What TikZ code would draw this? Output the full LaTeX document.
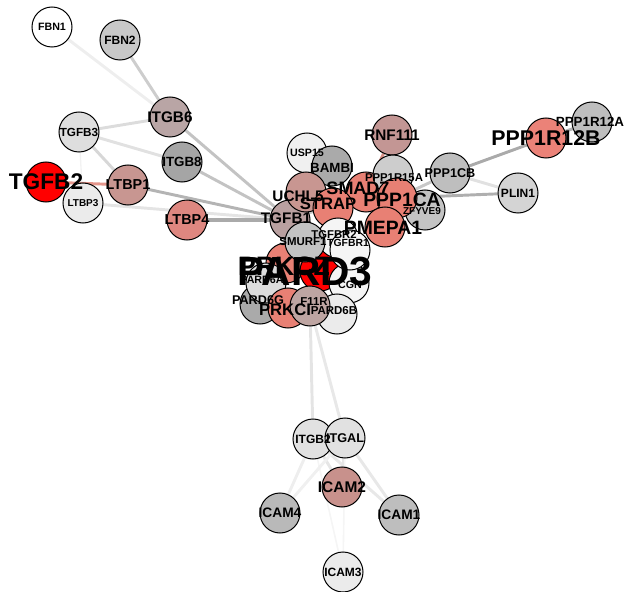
\documentclass[tikz,border=0pt]{standalone}
\usepackage{fontspec}
\setmainfont{Liberation Sans}
\pgfdeclarelayer{edges}
\pgfdeclarelayer{labels}
\pgfsetlayers{edges,main,labels}
\newcommand{\fsz}[1]{\fontsize{#1}{#1}\selectfont\bfseries}
\tikzset{every picture/.style={line width=0.75pt}}
\tikzset{gene/.style={circle, draw, line width=0.75pt, minimum size=30pt, inner sep=0pt},
  lnk/.style={line width=2.2pt},
  txt/.style={inner sep=0.75pt, text=black}}

\begin{document}
\begin{tikzpicture}[x=0.75pt,y=0.75pt,yscale=-1,xscale=1]
\useasboundingbox (0,0) rectangle (626,592);

%Circles, left group
\node [gene, fill={rgb, 255:red, 255; green, 255; blue, 255 }] (FBN1) at (52,27) {};
\node [gene, fill={rgb, 255:red, 200; green, 200; blue, 200 }] (FBN2) at (120,40) {};
\node [gene, fill={rgb, 255:red, 185; green, 165; blue, 165 }] (ITGB6) at (170,117) {};
\node [gene, fill={rgb, 255:red, 222; green, 222; blue, 222 }] (TGFB3) at (79,132) {};
\node [gene, fill={rgb, 255:red, 165; green, 165; blue, 165 }] (ITGB8) at (182,162) {};
\node [gene, fill={rgb, 255:red, 255; green, 0; blue, 0 }] (TGFB2) at (46,182) {};
\node [gene, fill={rgb, 255:red, 200; green, 150; blue, 145 }] (LTBP1) at (128,185) {};
\node [gene, fill={rgb, 255:red, 235; green, 235; blue, 235 }] (LTBP3) at (83,203) {};
\node [gene, fill={rgb, 255:red, 222; green, 135; blue, 128 }] (LTBP4) at (187,220) {};

%Circles, TGF-beta group
\node [gene, fill={rgb, 255:red, 240; green, 240; blue, 240 }] (USP15) at (307,153) {};
\node [gene, fill={rgb, 255:red, 170; green, 170; blue, 170 }] (BAMBI) at (332,166) {};
\node [gene, fill={rgb, 255:red, 195; green, 150; blue, 148 }] (RNF111) at (392,135) {};
\node [gene, fill={rgb, 255:red, 185; green, 160; blue, 160 }] (TGFB1) at (290,220) {};
\node [gene, fill={rgb, 255:red, 200; green, 150; blue, 145 }] (UCHL5) at (306,192) {};
\node [gene, fill={rgb, 255:red, 232; green, 128; blue, 116 }] (SMAD7) at (366,192) {};
\node [gene, fill={rgb, 255:red, 205; green, 205; blue, 205 }] (PPP1R15A) at (393,175) {};
\node [gene, fill={rgb, 255:red, 195; green, 195; blue, 195 }] (ZFYVE9) at (425,210) {};
\node [gene, fill={rgb, 255:red, 232; green, 128; blue, 116 }] (PPP1CA) at (397,198) {};
\node [gene, fill={rgb, 255:red, 232; green, 128; blue, 116 }] (STRAP) at (333,208) {};
\node [gene, fill={rgb, 255:red, 190; green, 190; blue, 190 }] (PPP1CB) at (450,173) {};

%Circles, polarity group
\node [gene, fill={rgb, 255:red, 232; green, 128; blue, 116 }] (PRKCZ) at (286,263) {};
\node [gene, fill={rgb, 255:red, 255; green, 0; blue, 0 }] (PARD3) at (320,271) {};
\node [gene, fill={rgb, 255:red, 245; green, 245; blue, 245 }] (CGN) at (349,283) {};
\node [gene, fill={rgb, 255:red, 245; green, 245; blue, 245 }] (TGFBR2) at (338,238) {};
\node [gene, fill={rgb, 255:red, 245; green, 245; blue, 245 }] (TGFBR1) at (350,250) {};
\node [gene, fill={rgb, 255:red, 232; green, 128; blue, 116 }] (PMEPA1) at (385,227) {};
\node [gene, fill={rgb, 255:red, 235; green, 235; blue, 235 }] (PARD6B) at (337,314) {};
\node [gene, fill={rgb, 255:red, 170; green, 170; blue, 170 }] (PARD6G) at (260,304) {};
\node [gene, fill={rgb, 255:red, 220; green, 220; blue, 220 }] (PARD6A) at (266,283) {};
\node [gene, fill={rgb, 255:red, 232; green, 128; blue, 116 }] (PRKCI) at (288,308) {};
\node [gene, fill={rgb, 255:red, 190; green, 165; blue, 162 }] (F11R) at (310,306) {};
\node [gene, fill={rgb, 255:red, 195; green, 195; blue, 195 }] (SMURF1) at (305,242) {};

%Circles, right group
\node [gene, fill={rgb, 255:red, 212; green, 212; blue, 212 }] (PLIN1) at (518,193) {};
\node [gene, fill={rgb, 255:red, 190; green, 190; blue, 190 }] (PPP1R12A) at (592,122) {};
\node [gene, fill={rgb, 255:red, 235; green, 130; blue, 120 }] (PPP1R12B) at (546,138) {};

%Circles, integrin group
\node [gene, fill={rgb, 255:red, 225; green, 225; blue, 225 }] (ITGB2) at (313,439) {};
\node [gene, fill={rgb, 255:red, 225; green, 225; blue, 225 }] (ITGAL) at (345,438) {};
\node [gene, fill={rgb, 255:red, 200; green, 145; blue, 140 }] (ICAM2) at (342,487) {};
\node [gene, fill={rgb, 255:red, 185; green, 185; blue, 185 }] (ICAM4) at (280,513) {};
\node [gene, fill={rgb, 255:red, 190; green, 190; blue, 190 }] (ICAM1) at (399,515) {};
\node [gene, fill={rgb, 255:red, 235; green, 235; blue, 235 }] (ICAM3) at (343,572) {};

%Straight Lines
\begin{pgfonlayer}{edges}
\draw [lnk, color={rgb, 255:red, 238; green, 238; blue, 238 }] (FBN1) -- (ITGB6) ;
\draw [lnk, color={rgb, 255:red, 205; green, 205; blue, 205 }] (FBN2) -- (ITGB6) ;
\draw [lnk, color={rgb, 255:red, 220; green, 220; blue, 220 }] (TGFB3) -- (ITGB6) ;
\draw [lnk, color={rgb, 255:red, 225; green, 225; blue, 225 }] (TGFB3) -- (ITGB8) ;
\draw [lnk, color={rgb, 255:red, 215; green, 215; blue, 215 }] (TGFB3) -- (LTBP1) ;
\draw [line width=1pt, color={rgb, 255:red, 242; green, 242; blue, 242 }] (TGFB3) -- (LTBP3) ;
\draw [lnk, color={rgb, 255:red, 228; green, 150; blue, 140 }] (TGFB2) -- (LTBP1) ;
\draw [lnk, color={rgb, 255:red, 195; green, 195; blue, 195 }] (ITGB6) -- (TGFB1) ;
\draw [lnk, color={rgb, 255:red, 195; green, 195; blue, 195 }] (ITGB8) -- (TGFB1) ;
\draw [lnk, color={rgb, 255:red, 180; green, 180; blue, 180 }] (LTBP1) -- (TGFB1) ;
\draw [lnk, color={rgb, 255:red, 228; green, 228; blue, 228 }] (LTBP3) -- (TGFB1) ;
\draw [lnk, line width=2.6pt, color={rgb, 255:red, 170; green, 170; blue, 170 }] (LTBP4) -- (TGFB1) ;
\draw [lnk, color={rgb, 255:red, 215; green, 145; blue, 135 }] (RNF111) -- (SMAD7) ;
\draw [lnk, color={rgb, 255:red, 200; green, 200; blue, 200 }] (TGFB1) -- (SMAD7) ;
\draw [lnk, color={rgb, 255:red, 200; green, 200; blue, 200 }] (PPP1CA) -- (PPP1CB) ;
\draw [lnk, color={rgb, 255:red, 175; green, 175; blue, 175 }] (PPP1CA) -- (PLIN1) ;
\draw [lnk, color={rgb, 255:red, 225; green, 225; blue, 225 }] (PPP1CB) -- (PLIN1) ;
\draw [lnk, color={rgb, 255:red, 170; green, 170; blue, 170 }] (PPP1CB) -- (PPP1R12B) ;
\draw [lnk, color={rgb, 255:red, 180; green, 180; blue, 180 }] (PPP1R12B) -- (PPP1R12A) ;
\draw [lnk, color={rgb, 255:red, 200; green, 200; blue, 200 }] (SMAD7) -- (SMURF1) ;
\draw [lnk, color={rgb, 255:red, 200; green, 200; blue, 200 }] (PARD3) -- (PRKCI) ;
\draw [lnk, color={rgb, 255:red, 228; green, 228; blue, 228 }] (F11R) -- (ITGB2) ;
\draw [lnk, color={rgb, 255:red, 232; green, 232; blue, 232 }] (F11R) -- (ITGAL) ;
\draw [lnk, color={rgb, 255:red, 238; green, 238; blue, 238 }] (ITGB2) -- (ICAM4) ;
\draw [lnk, color={rgb, 255:red, 232; green, 232; blue, 232 }] (ITGB2) -- (ICAM1) ;
\draw [lnk, color={rgb, 255:red, 230; green, 230; blue, 230 }] (ITGB2) -- (ICAM2) ;
\draw [line width=1.2pt, color={rgb, 255:red, 245; green, 245; blue, 245 }] (ITGB2) -- (ICAM3) ;
\draw [lnk, color={rgb, 255:red, 232; green, 232; blue, 232 }] (ITGAL) -- (ICAM1) ;
\draw [lnk, color={rgb, 255:red, 240; green, 240; blue, 240 }] (ITGAL) -- (ICAM4) ;
\draw [lnk, color={rgb, 255:red, 230; green, 230; blue, 230 }] (ITGAL) -- (ICAM2) ;
\draw [line width=1.2pt, color={rgb, 255:red, 245; green, 245; blue, 245 }] (ITGAL) -- (ICAM3) ;
\end{pgfonlayer}

% Text Nodes
\begin{pgfonlayer}{labels}
\node [txt, font=\fsz{8}] (FBN1-t) at (FBN1) {FBN1};
\node [txt, font=\fsz{9}] (FBN2-t) at (FBN2) {FBN2};
\node [txt, font=\fsz{11.5}] (ITGB6-t) at (ITGB6) {ITGB6};
\node [txt, font=\fsz{8.8}] (TGFB3-t) at (TGFB3) {TGFB3};
\node [txt, font=\fsz{10}] (ITGB8-t) at (ITGB8) {ITGB8};
\node [txt, font=\fsz{17}] (TGFB2-t) at (TGFB2) {TGFB2};
\node [txt, font=\fsz{10.8}] (LTBP1-t) at (LTBP1) {LTBP1};
\node [txt, font=\fsz{7.5}] (LTBP3-t) at (LTBP3) {LTBP3};
\node [txt, font=\fsz{10.8}] (LTBP4-t) at (LTBP4) {LTBP4};
\node [txt, font=\fsz{8}] (USP15-t) at (USP15) {USP15};
\node [txt, font=\fsz{10}] (BAMBI-t) at (332,168) {BAMBI};
\node [txt, font=\fsz{11.5}] (RNF111-t) at (RNF111) {RNF111};
\node [txt, font=\fsz{11.5}] (TGFB1-t) at (286,218) {TGFB1};
\node [txt, font=\fsz{11.5}] (UCHL5-t) at (298,196) {UCHL5};
\node [txt, font=\fsz{13.5}] (SMAD7-t) at (358,188) {SMAD7};
\node [txt, font=\fsz{8.5}] (PPP1R15A-t) at (394,178) {PPP1R15A};
\node [txt, font=\fsz{7.5}] (ZFYVE9-t) at (422,211) {ZFYVE9};
\node [txt, font=\fsz{14.5}] (PPP1CA-t) at (402,200) {PPP1CA};
\node [txt, font=\fsz{12.5}] (STRAP-t) at (328,204) {STRAP};
\node [txt, font=\fsz{9.5}] (PPP1CB-t) at (PPP1CB) {PPP1CB};
\node [txt, font=\fsz{20}] (PRKCZ-t) at (284,266) {PRKCZ};
\node [txt, font=\fsz{8}] (PARD6A-t) at (262,280) {PARD6A};
\node [txt, font=\fsz{8}] (CGN-t) at (350,285) {CGN};
\node [txt, font=\fsz{8.5}] (TGFBR2-t) at (334,235) {TGFBR2};
\node [txt, font=\fsz{7.8}] (TGFBR1-t) at (348,243) {TGFBR1};
\node [txt, font=\fsz{14.5}] (PMEPA1-t) at (383,228) {PMEPA1};
\node [txt, font=\fsz{8.6}] (PARD6B-t) at (334,311) {PARD6B};
\node [txt, font=\fsz{9.5}] (PARD6G-t) at (258,300) {PARD6G};
\node [txt, font=\fsz{12.5}] (PRKCI-t) at (285,310) {PRKCI};
\node [txt, font=\fsz{8.6}] (F11R-t) at (314,302) {F11R};
\node [txt, font=\fsz{8.6}] (SMURF1-t) at (303,242) {SMURF1};
\node [txt, font=\fsz{30.5}] (PARD3-t) at (305,272) {PARD3};
\node [txt, font=\fsz{9}] (PLIN1-t) at (PLIN1) {PLIN1};
\node [txt, font=\fsz{10}] (PPP1R12A-t) at (590,122) {PPP1R12A};
\node [txt, font=\fsz{16}] (PPP1R12B-t) at (PPP1R12B) {PPP1R12B};
\node [txt, font=\fsz{9}] (ITGB2-t) at (ITGB2) {ITGB2};
\node [txt, font=\fsz{9.5}] (ITGAL-t) at (ITGAL) {ITGAL};
\node [txt, font=\fsz{11.6}] (ICAM2-t) at (ICAM2) {ICAM2};
\node [txt, font=\fsz{10.3}] (ICAM4-t) at (ICAM4) {ICAM4};
\node [txt, font=\fsz{10.3}] (ICAM1-t) at (ICAM1) {ICAM1};
\node [txt, font=\fsz{9}] (ICAM3-t) at (ICAM3) {ICAM3};
\end{pgfonlayer}
\end{tikzpicture}
\end{document}
